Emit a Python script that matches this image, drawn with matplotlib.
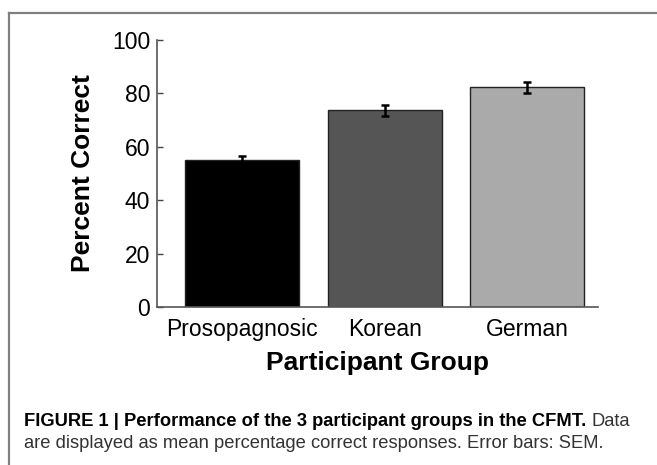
import matplotlib
matplotlib.use("Agg")
import matplotlib.pyplot as plt
from matplotlib.lines import Line2D

categories = ["Prosopagnosic", "Korean", "German"]
means = [55.2, 73.7, 82.3]
sems = [1.4, 2.1, 2.0]
colors = ["#000000", "#555555", "#aaaaaa"]
yticks = [0, 20, 40, 60, 80, 100]

plt.rcParams['font.family'] = ['Liberation Sans', 'DejaVu Sans']

fig = plt.figure(figsize=(6.57, 4.65), dpi=100)
ax = fig.add_axes([157/657, 1-307/465, (598-157)/657, (307-40)/465])

x = list(range(1, len(categories)+1))
ax.bar(x, means, width=0.8, color=colors, edgecolor="#222222", linewidth=1.0, zorder=2)
ax.errorbar(x, means, yerr=sems, fmt='none', ecolor='black', elinewidth=1.8,
            capsize=2.6, capthick=1.8, zorder=3)

ax.set_xlim(0.4, 3.5)
ax.set_ylim(0, 100)
ax.set_yticks(yticks)
ax.set_xticks(x)
ax.set_xticklabels(categories)
ax.tick_params(axis='y', direction='in', length=4, width=1, color='#444444', labelsize=16.5, pad=5)
ax.tick_params(axis='x', length=0, labelsize=16.5, pad=8)
for s in ['top', 'right']:
    ax.spines[s].set_visible(False)
for s in ['left', 'bottom']:
    ax.spines[s].set_color('#555555')
    ax.spines[s].set_linewidth(1.2)
ax.set_ylabel("Percent Correct", fontsize=19, fontweight='bold', labelpad=12)
ax.set_xlabel("Participant Group", fontsize=19, fontweight='bold', labelpad=7)

# outer frame (top and left lines)
fig.add_artist(Line2D([9/657, 1.0], [1-13/465, 1-13/465], color='#808080', lw=1.6, transform=fig.transFigure))
fig.add_artist(Line2D([9/657, 9/657], [0, 1-13/465], color='#808080', lw=1.6, transform=fig.transFigure))

# caption
cap_x = 24/657
cap_fs = 13.2
t1 = fig.text(cap_x, 1-426/465, "FIGURE 1 | Performance of the 3 participant groups in the CFMT.",
              fontsize=cap_fs, fontweight='bold', va='baseline', ha='left')
fig.canvas.draw()
bb = t1.get_window_extent(renderer=fig.canvas.get_renderer())
fig.text((bb.x1 + 5)/fig.bbox.width, 1-426/465, "Data", fontsize=cap_fs, va='baseline', ha='left', color='#333333')
fig.text(cap_x, 1-448/465, "are displayed as mean percentage correct responses. Error bars: SEM.",
         fontsize=cap_fs, va='baseline', ha='left', color='#333333')

fig.savefig("out.png", dpi=100)
